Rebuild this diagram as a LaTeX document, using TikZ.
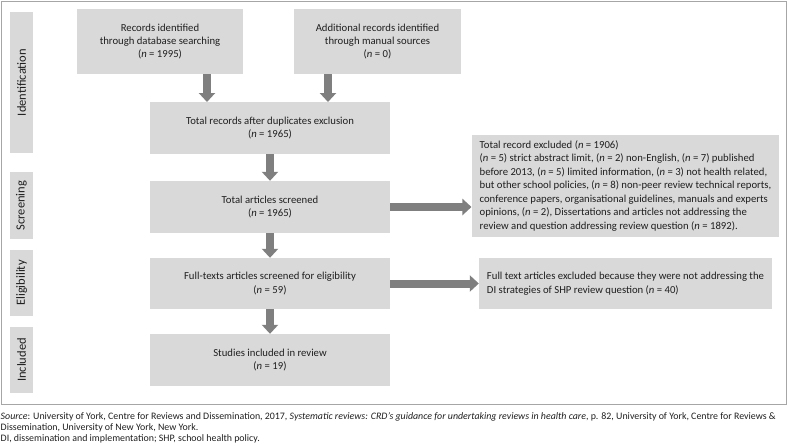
\documentclass[tikz,border=0pt]{standalone}
\usepackage{fontspec}
\setmainfont{Carlito}
\usetikzlibrary{arrows.meta}
\definecolor{boxgray}{HTML}{D9D9D9}
\definecolor{arrgray}{HTML}{7F7F7F}
\definecolor{framegray}{HTML}{A6A6A6}
\definecolor{txt}{HTML}{1F1F1F}
\newcommand{\exl}[1]{\hbox{#1}}
\newcommand{\exblock}[1]{\parbox{291pt}{\fontsize{10.7}{13.5}\selectfont #1}}
\begin{document}
\begin{tikzpicture}[x=1pt,y=-1pt,
  fbox/.style={fill=boxgray, text=txt, align=center, inner sep=0pt,
    font=\fontsize{10.7}{13.3}\selectfont},
  ebox/.style={fill=boxgray, text=txt, inner xsep=8pt, inner ysep=0pt,
    font=\fontsize{10.7}{13.5}\selectfont},
  stage/.style={fill=boxgray, text=txt, rotate=90, minimum height=23pt, inner sep=0pt,
    font=\fontsize{12.5}{14}\selectfont},
  arr/.style={draw=arrgray, line width=8pt, -{Triangle[width=16pt,length=9pt]}},
  capt/.style={text=txt, anchor=base west, inner sep=0pt, font=\fontsize{9.9}{11}\selectfont},
]
\useasboundingbox (0,0) rectangle (788,445);
\draw[framegray, line width=1pt] (1,1) rectangle (786,404);

% stage labels
\node[stage, minimum width=141pt] (sid) at (21.5,82.5) {Identification};
\node[stage, minimum width=67pt] (ssc) at (21.5,205.5) {Screening};
\node[stage, minimum width=66pt] (sel) at (21.5,283) {Eligibility};
\node[stage, minimum width=66pt] (sin) at (21.5,360) {Included};

% flow boxes
\node[fbox, minimum width=166pt, minimum height=65pt] (b1) at (160,41.5)
  {Records identified\\through database searching\\(\textit{n} = 1995)};
\node[fbox, minimum width=167pt, minimum height=65pt] (b2) at (377.5,41.5)
  {Additional records identified\\through manual sources\\(\textit{n} = 0)};
\node[fbox, minimum width=240pt, minimum height=52pt] (b3) at (270,128)
  {Total records after duplicates exclusion\\(\textit{n} = 1965)};
\node[fbox, minimum width=240pt, minimum height=52pt] (b4) at (270,207)
  {Total articles screened\\(\textit{n} = 1965)};
\node[fbox, minimum width=240pt, minimum height=51pt] (b5) at (270,283.5)
  {Full-texts articles screened for eligibility\\(\textit{n} = 59)};
\node[fbox, minimum width=240pt, minimum height=52pt] (b6) at (270,360)
  {Studies included in review\\(\textit{n} = 19)};

% exclusion boxes
\node[ebox, minimum height=102pt] (e1) at (625.5,186)
  {\exblock{%
   \exl{Total record excluded (\textit{n} = 1906)}%
   \exl{(\textit{n} = 5) strict abstract limit, (\textit{n} = 2) non-English, (\textit{n} = 7) published}%
   \exl{before 2013, (\textit{n} = 5) limited information, (\textit{n} = 3) not health related,}%
   \exl{but other school policies, (\textit{n} = 8) non-peer review technical reports,}%
   \exl{conference papers, organisational guidelines, manuals and experts}%
   \exl{opinions, (\textit{n} = 2), Dissertations and articles not addressing the}%
   \exl{review and question addressing review question (\textit{n} = 1892).}}};
\node[ebox, minimum height=51pt] (e2) at (625.5,283.5)
  {\exblock{%
   \exl{Full text articles excluded because they were not addressing the}%
   \exl{DI strategies of SHP review question (\textit{n} = 40)}}};

% connectors
\coordinate (a1) at (207,102);
\coordinate (a2) at (328,102);
\draw[arr] (b1.south -| a1) -- (a1);
\draw[arr] (b2.south -| a2) -- (a2);
\draw[arr] (b3.south) -- (b4.north);
\draw[arr] (b4.south) -- (b5.north);
\draw[arr] (b5.south) -- (b6.north);
\draw[arr] (b4.east) -- (b4.east -| e1.west);
\draw[arr] (b5.east) -- (b5.east -| e2.west);

% caption
\node[capt] (c1) at (0.5,419.5) {\textit{Source}: University of York, Centre for Reviews and Dissemination, 2017, \textit{Systematic reviews: CRD’s guidance for undertaking reviews in health care}, p. 82, University of York, Centre for Reviews \&};
\node[capt] (c2) at (0.5,430) {Dissemination, University of New York, New York.};
\node[capt] (c3) at (0.5,441) {DI, dissemination and implementation; SHP, school health policy.};
\end{tikzpicture}
\end{document}
